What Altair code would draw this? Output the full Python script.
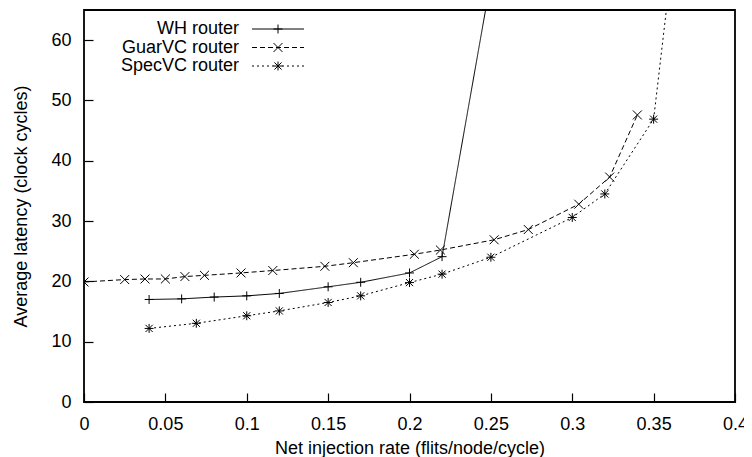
import altair as alt
import pandas as pd

series_names = ["WH router", "GuarVC router", "SpecVC router"]

wh_rate = [0.04, 0.06, 0.08, 0.10, 0.12, 0.15, 0.17, 0.20, 0.22, 0.25]
wh_latency = [17.0, 17.1, 17.4, 17.6, 18.0, 19.1, 19.85, 21.4, 24.1, 70.0]

guar_rate = [0.0, 0.025, 0.0375, 0.05, 0.062, 0.074, 0.0965, 0.116, 0.148,
             0.1655, 0.203, 0.219, 0.252, 0.273, 0.304, 0.323, 0.34]
guar_latency = [19.9, 20.3, 20.4, 20.4, 20.8, 21.0, 21.4, 21.8, 22.5,
                23.1, 24.5, 25.2, 26.9, 28.6, 32.8, 37.3, 47.6]

spec_rate = [0.04, 0.069, 0.10, 0.12, 0.15, 0.17, 0.20, 0.22, 0.25, 0.30, 0.32, 0.35, 0.36]
spec_latency = [12.2, 13.05, 14.3, 15.1, 16.5, 17.6, 19.8, 21.2, 24.0, 30.6, 34.5, 46.9, 70.0]

x_ticks = [0, 0.05, 0.1, 0.15, 0.2, 0.25, 0.3, 0.35, 0.4]
y_ticks = [0, 10, 20, 30, 40, 50, 60]

rows = []
for name, xs, ys in [(series_names[0], wh_rate, wh_latency),
                     (series_names[1], guar_rate, guar_latency),
                     (series_names[2], spec_rate, spec_latency)]:
    for xv, yv in zip(xs, ys):
        rows.append({"rate": xv, "latency": yv, "series": name, "marker": name})
df = pd.DataFrame(rows)

FONT = "Liberation Sans"
FS = 18

plus_path = "M-1,0H1M0,-1V1"
cross_path = "M-1,-1L1,1M-1,1L1,-1"
star_path = "M-1,0H1M0,-1V1M-0.8,-0.8L0.8,0.8M-0.8,0.8L0.8,-0.8"
legend_line_path = "M2.588,0H8.706"

x_enc = alt.X("rate:Q",
              scale=alt.Scale(domain=[0, 0.4], nice=False, zero=False),
              axis=alt.Axis(values=x_ticks, format="~g", title="Net injection rate (flits/node/cycle)",
                            offset=-9, tickSize=9, domain=False, grid=False,
                            labelPadding=13, labelFlush=False, labelOverlap=False,
                            titlePadding=6))
y_enc = alt.Y("latency:Q",
              scale=alt.Scale(domain=[0, 65], nice=False),
              axis=alt.Axis(values=y_ticks, title="Average latency (clock cycles)",
                            offset=-9, tickSize=9, domain=False, grid=False,
                            labelPadding=13, labelFlush=False, labelOverlap=False,
                            titlePadding=20))

base = alt.Chart(df).encode(x=x_enc, y=y_enc)

LEG_X = 137
LEG_Y = 10

lines = base.mark_line(clip=True, color="black", strokeWidth=1).encode(
    strokeDash=alt.StrokeDash(
        "series:N",
        scale=alt.Scale(domain=series_names, range=[[1, 0], [5, 3], [2, 3]]),
        legend=alt.Legend(orient="none", legendX=LEG_X, legendY=LEG_Y, title=None,
                          symbolType=legend_line_path, symbolSize=289, symbolStrokeWidth=1,
                          symbolStrokeColor="black", symbolOffset=0,
                          labelAlign="right", labelOffset=0,
                          labelFont=FONT, labelFontSize=FS, labelColor="black",
                          rowPadding=0.5, padding=0, offset=0),
    ),
    order=alt.Order("rate:Q"),
)

points = base.mark_point(clip=True, color="black", strokeWidth=1, size=80, filled=False, opacity=1).encode(
    shape=alt.Shape(
        "marker:N",
        sort=series_names,
        scale=alt.Scale(range=[plus_path, cross_path, star_path]),
        legend=alt.Legend(orient="none", legendX=LEG_X, legendY=LEG_Y, title=None,
                          symbolSize=80, symbolStrokeWidth=1, symbolStrokeColor="black",
                          symbolFillColor="transparent", symbolOffset=48,
                          labelExpr="''", labelAlign="right", labelFont=FONT, labelFontSize=FS,
                          rowPadding=0.5, padding=0, offset=0),
    ),
)

chart = alt.layer(lines, points).properties(
    width=651, height=392,
    autosize=alt.AutoSizeParams(type="none"),
    padding={"left": 76, "top": 2, "right": 9, "bottom": 55},
).configure_view(
    stroke="black", strokeWidth=1.8
).configure_axis(
    labelFont=FONT, labelFontSize=FS, labelColor="black",
    titleFont=FONT, titleFontSize=FS, titleFontWeight="normal", titleColor="black",
    tickColor="black", tickWidth=1.2,
)

chart.save("out.html", embed_options={"renderer": "svg", "actions": False})
